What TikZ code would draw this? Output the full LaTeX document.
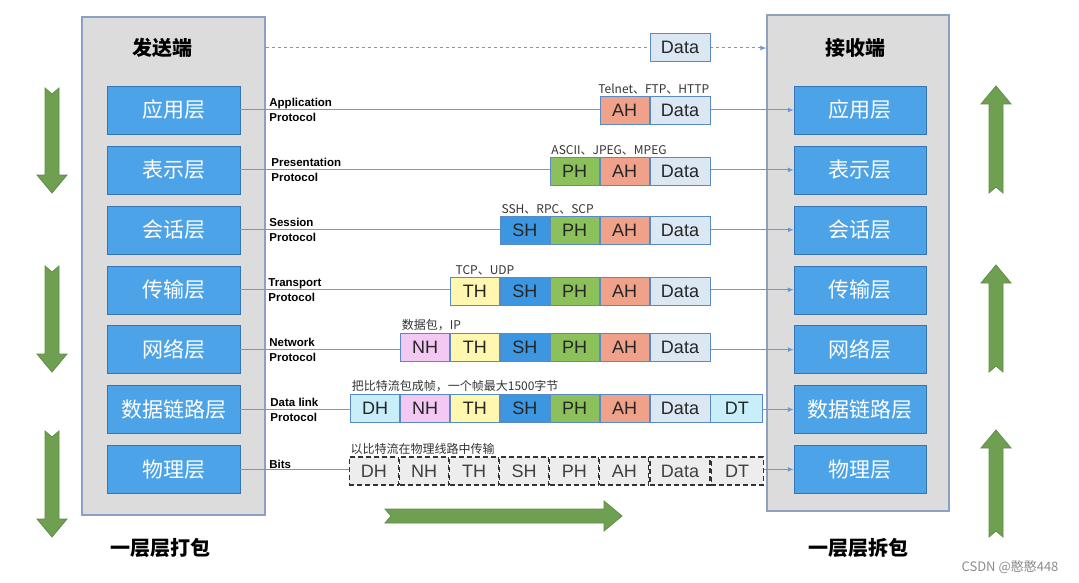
\documentclass[tikz,border=0pt]{standalone}
\usepackage{fontspec}
\setmainfont{Liberation Sans}
\newfontfamily\cjk{Noto Sans CJK SC}
\usetikzlibrary{arrows.meta,positioning}
\definecolor{boxgray}{HTML}{DCDCDC}
\definecolor{sideedge}{HTML}{8CA0C3}
\definecolor{layerblue}{HTML}{4DA3E8}
\definecolor{layeredge}{HTML}{3674B4}
\definecolor{linkblue}{HTML}{6C9AD8}
\definecolor{celledge}{HTML}{5A8AC6}
\definecolor{ahcol}{HTML}{F0A18A}
\definecolor{phcol}{HTML}{8CC05A}
\definecolor{shcol}{HTML}{3D96E0}
\definecolor{thcol}{HTML}{FFF7B0}
\definecolor{nhcol}{HTML}{F3C8F3}
\definecolor{dhcol}{HTML}{C7EEF9}
\definecolor{datacol}{HTML}{DCE7F4}
\definecolor{arrowgreen}{HTML}{6FA052}
\definecolor{arrowedge}{HTML}{5D8E45}
\tikzset{
  side/.style={draw=sideedge, fill=boxgray, line width=1.2pt, minimum width=183, minimum height=498},
  title/.style={font=\cjk\bfseries\fontsize{20}{24}\selectfont},
  layer/.style={draw=layeredge, fill=layerblue, text=white, minimum width=133, minimum height=48, font=\cjk\fontsize{21}{24}\selectfont},
  cell/.style={draw=celledge, line width=0.9pt, minimum width=49, minimum height=28, inner sep=0pt, font=\fontsize{18}{20}\selectfont, text=black!85},
  datacell/.style={cell, fill=datacol, minimum width=60},
  bitcell/.style={cell, draw=black!80, dash pattern=on 5pt off 3pt, fill=black!7, text=black!75, line width=1.1pt},
  proto/.style={align=left, font=\bfseries\fontsize{11.5}{15}\selectfont, inner sep=0pt, anchor=west},
  note/.style={font=\cjk\fontsize{12}{14}\selectfont, anchor=south west, inner sep=1.5pt, text=black!80},
  link/.style={draw=linkblue, line width=1pt, -{Latex[length=6pt,width=5pt]}},
  pics/bigarrow/.style={code={
    \draw[fill=arrowgreen, draw=arrowedge, line width=0.8pt] (0,-7) -- (#1-18,-7) -- (#1-18,-15) -- (#1,0) -- (#1-18,15) -- (#1-18,7) -- (0,7) -- (6,0) -- cycle;
  }}
}
\begin{document}
\begin{tikzpicture}[x=1pt, y=-1pt, node distance=11.5pt]
\useasboundingbox (0,0) rectangle (1079,583);

% sender and receiver
\node[side] (sbox) at (173.5,266) {};
\node[side, minimum width=182, minimum height=496] (rbox) at (858,263) {};
\node[title] (stitle) at (162,48) {发送端};
\node[title] (rtitle) at (855,48) {接收端};

\node[layer] (s1) at (173.5,110) {应用层};
\node[layer, below=of s1] (s2) {表示层};
\node[layer, below=of s2] (s3) {会话层};
\node[layer, below=of s3] (s4) {传输层};
\node[layer, below=of s4] (s5) {网络层};
\node[layer, below=of s5] (s6) {数据链路层};
\node[layer, below=of s6] (s7) {物理层};

\node[layer, minimum width=132] (r1) at (860,110) {应用层};
\node[layer, minimum width=132, below=of r1] (r2) {表示层};
\node[layer, minimum width=132, below=of r2] (r3) {会话层};
\node[layer, minimum width=132, below=of r3] (r4) {传输层};
\node[layer, minimum width=132, below=of r4] (r5) {网络层};
\node[layer, minimum width=132, below=of r5] (r6) {数据链路层};
\node[layer, minimum width=132, below=of r6] (r7) {物理层};

% peer protocols
\draw[link, dashed] (sbox.east |- stitle) -- (rbox.west |- stitle);
\draw[link] (s1) -- (r1);
\draw[link] (s2) -- (r2);
\draw[link] (s3) -- (r3);
\draw[link] (s4) -- (r4);
\draw[link] (s5) -- (r5);
\draw[link] (s6) -- (r6);
\draw[link] (s7) -- (r7);

\node[proto] (p1) at ([xshift=29pt]s1.east) {Application\\Protocol};
\node[proto] (p2) at ([xshift=31pt]s2.east) {Presentation\\Protocol};
\node[proto] (p3) at ([xshift=29pt]s3.east) {Session\\Protocol};
\node[proto] (p4) at ([xshift=28pt]s4.east) {Transport\\Protocol};
\node[proto] (p5) at ([xshift=29pt]s5.east) {Network\\Protocol};
\node[proto] (p6) at ([xshift=30pt]s6.east) {Data link\\Protocol};
\node[proto, anchor=south west, inner sep=1pt] (p7) at ([xshift=28pt]s7.east) {Bits};

% headers
\node[datacell] (data0) at (680,47) {Data};

\node[datacell] (data1) at (680,110) {Data};
\node[cell, fill=ahcol, left=0pt of data1] (ah1) {AH};
\node[note, xshift=-3pt] (n1) at (ah1.north west) {Telnet、FTP、HTTP};

\node[datacell] (data2) at (680,171) {Data};
\node[cell, fill=ahcol, left=0pt of data2] (ah2) {AH};
\node[cell, fill=phcol, left=0pt of ah2] (ph2) {PH};
\node[note] (n2) at (ph2.north west) {ASCII、JPEG、MPEG};

\node[datacell] (data3) at (680,230) {Data};
\node[cell, fill=ahcol, left=0pt of data3] (ah3) {AH};
\node[cell, fill=phcol, left=0pt of ah3] (ph3) {PH};
\node[cell, fill=shcol, left=0pt of ph3] (sh3) {SH};
\node[note] (n3) at (sh3.north west) {SSH、RPC、SCP};

\node[datacell] (data4) at (680,291) {Data};
\node[cell, fill=ahcol, left=0pt of data4] (ah4) {AH};
\node[cell, fill=phcol, left=0pt of ah4] (ph4) {PH};
\node[cell, fill=shcol, left=0pt of ph4] (sh4) {SH};
\node[cell, fill=thcol, left=0pt of sh4] (th4) {TH};
\node[note, xshift=4pt] (n4) at (th4.north west) {TCP、UDP};

\node[datacell] (data5) at (680,347) {Data};
\node[cell, fill=ahcol, left=0pt of data5] (ah5) {AH};
\node[cell, fill=phcol, left=0pt of ah5] (ph5) {PH};
\node[cell, fill=shcol, left=0pt of ph5] (sh5) {SH};
\node[cell, fill=thcol, left=0pt of sh5] (th5) {TH};
\node[cell, fill=nhcol, left=0pt of th5] (nh5) {NH};
\node[note] (n5) at (nh5.north west) {数据包，IP};

\node[datacell] (data6) at (680,408) {Data};
\node[cell, fill=ahcol, left=0pt of data6] (ah6) {AH};
\node[cell, fill=phcol, left=0pt of ah6] (ph6) {PH};
\node[cell, fill=shcol, left=0pt of ph6] (sh6) {SH};
\node[cell, fill=thcol, left=0pt of sh6] (th6) {TH};
\node[cell, fill=nhcol, left=0pt of th6] (nh6) {NH};
\node[cell, fill=dhcol, left=0pt of nh6] (dh6) {DH};
\node[cell, fill=dhcol, minimum width=52, right=0pt of data6] (dt6) {DT};
\node[note] (n6) at (dh6.north west) {把比特流包成帧，一个帧最大1500字节};

\node[bitcell, minimum width=60] (data7) at (680,471) {Data};
\node[bitcell, left=0pt of data7] (ah7) {AH};
\node[bitcell, left=0pt of ah7] (ph7) {PH};
\node[bitcell, left=0pt of ph7] (sh7) {SH};
\node[bitcell, left=0pt of sh7] (th7) {TH};
\node[bitcell, left=0pt of th7] (nh7) {NH};
\node[bitcell, left=0pt of nh7] (dh7) {DH};
\node[bitcell, minimum width=52, right=0pt of data7] (dt7) {DT};
\node[note] (n7) at (dh7.north west) {以比特流在物理线路中传输};

% direction arrows
\pic[rotate=-90] at (52,88) {bigarrow=105};
\pic[rotate=-90] at (52,266) {bigarrow=106};
\pic[rotate=-90] at (52,431) {bigarrow=106};
\pic[rotate=90] at (996,193) {bigarrow=107};
\pic[rotate=90] at (996,372) {bigarrow=107};
\pic[rotate=90] at (996,537) {bigarrow=107};
\pic at (385,516) {bigarrow=237};

\node[title] (pack) at (160,548) {一层层打包};
\node[title] (unpack) at (858,548) {一层层拆包};
\node[font=\cjk\fontsize{13}{15}\selectfont, text=black!45] (mark) at (1010,567) {CSDN @憨憨448};
\end{tikzpicture}
\end{document}
